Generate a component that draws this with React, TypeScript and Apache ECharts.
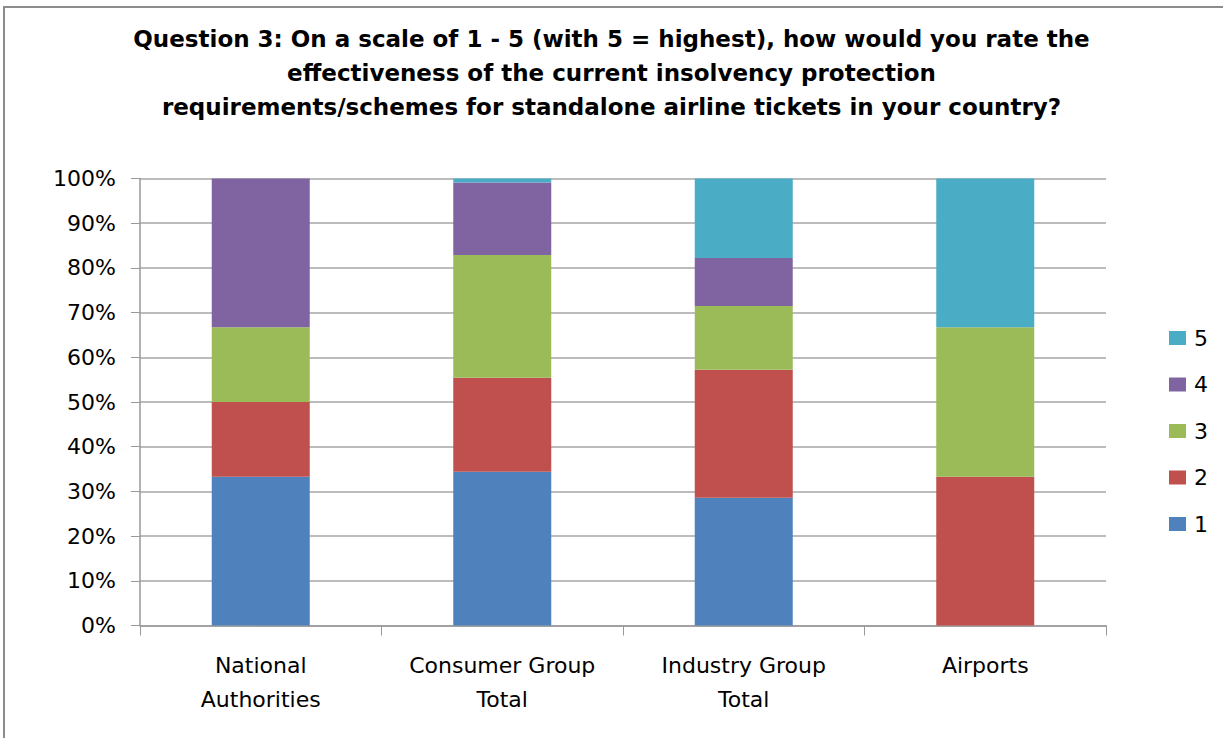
import React, { useEffect, useRef } from "react";
import * as echarts from "echarts";

// Survey groups along the x axis
const categories = [
  "National\nAuthorities",
  "Consumer Group\nTotal",
  "Industry Group\nTotal",
  "Airports",
];

// Share of answers (%) per rating, one value per group
const rating1 = [33.3, 34.4, 28.6, 0];
const rating2 = [16.7, 21.0, 28.6, 33.3];
const rating3 = [16.7, 27.5, 14.3, 33.4];
const rating4 = [33.3, 16.2, 10.7, 0];
const rating5 = [0, 0.9, 17.8, 33.3];

const yTicks = [0, 10, 20, 30, 40, 50, 60, 70, 80, 90, 100];

const titleLines = [
  "Question 3: On a scale of 1 - 5 (with 5 = highest), how would you rate the",
  "effectiveness of the current insolvency protection",
  "requirements/schemes for standalone airline tickets in your country?",
];

const colors = ["#4F81BD", "#C0504D", "#9BBB59", "#8064A2", "#4BACC6"];

export default function App() {
  const ref = useRef<HTMLDivElement>(null);

  useEffect(() => {
    if (!ref.current) return;
    const chart = echarts.init(ref.current, undefined, { renderer: "svg" });
    const labelFont = "'DejaVu Sans', sans-serif";
    const mk = (name: string, data: number[], color: string) => ({
      name,
      type: "bar" as const,
      stack: "total",
      data,
      barWidth: 98,
      itemStyle: { color },
      emphasis: { disabled: true },
    });

    chart.setOption({
      animation: false,
      backgroundColor: "#ffffff",
      title: {
        text: titleLines.join("\n"),
        left: "center",
        top: 17,
        textStyle: {
          fontFamily: "'DejaVu Sans', sans-serif",
          fontWeight: "bold",
          fontSize: 23,
          lineHeight: 34,
          color: "#000000",
        },
      },
      graphic: [
        {
          type: "rect",
          shape: { x: 4, y: 7, width: 1400, height: 900 },
          style: { fill: "none", stroke: "#8c8c8c", lineWidth: 2 },
          silent: true,
          z: -1,
        },
      ],
      legend: {
        orient: "vertical",
        left: 1164,
        top: 322,
        itemWidth: 17,
        itemHeight: 14,
        itemGap: 24.5,
        icon: "rect",
        data: ["5", "4", "3", "2", "1"],
        textStyle: {
          fontFamily: labelFont,
          fontSize: 22,
          color: "#000000",
          padding: [0, 0, 0, 3],
        },
      },
      grid: { left: 140, right: 117, top: 178.5, bottom: 112.5 },
      xAxis: {
        type: "category",
        data: categories,
        axisLine: { lineStyle: { color: "#999999", width: 1.5 } },
        axisTick: { show: true, length: 10, lineStyle: { color: "#999999" } },
        axisLabel: {
          interval: 0,
          margin: 23,
          fontFamily: labelFont,
          fontSize: 22,
          lineHeight: 34,
          color: "#000000",
        },
      },
      yAxis: {
        type: "value",
        min: yTicks[0],
        max: yTicks[yTicks.length - 1],
        interval: 10,
        axisLine: { show: true, lineStyle: { color: "#999999", width: 1.5 } },
        axisTick: { show: true, length: 9, lineStyle: { color: "#999999" } },
        splitLine: { lineStyle: { color: "#a6a6a6", width: 1.5 } },
        axisLabel: {
          margin: 24,
          formatter: "{value}%",
          fontFamily: labelFont,
          fontSize: 22,
          color: "#000000",
        },
      },
      series: [
        mk("1", rating1, colors[0]),
        mk("2", rating2, colors[1]),
        mk("3", rating3, colors[2]),
        mk("4", rating4, colors[3]),
        mk("5", rating5, colors[4]),
      ],
    });
    return () => chart.dispose();
  }, []);

  return (
    <div
      ref={ref}
      style={{ position: "fixed", left: 0, top: 0, width: 1223, height: 738 }}
    />
  );
}
